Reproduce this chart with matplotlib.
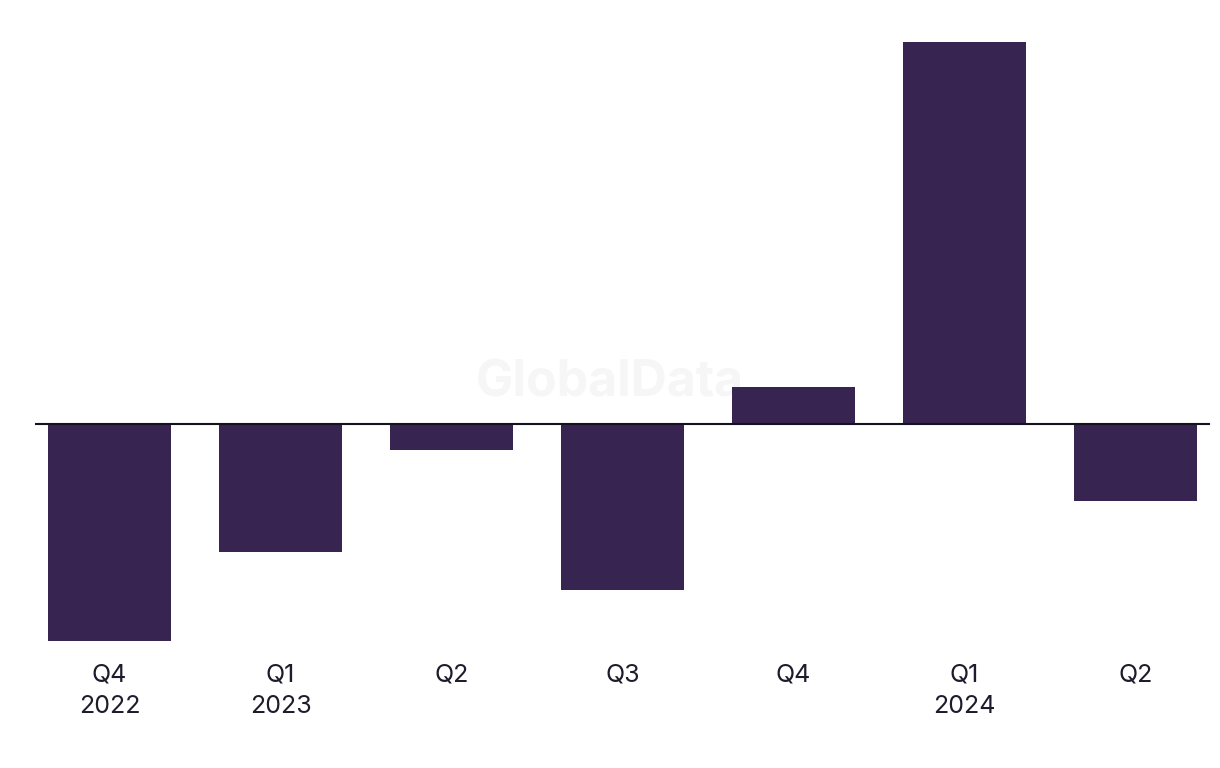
import matplotlib.pyplot as plt

plt.rcParams['font.family'] = ['Inter', 'DejaVu Sans']

# 数据
quarters = ['Q4\n2022', 'Q1\n2023', 'Q2', 'Q3', 'Q4', 'Q1\n2024', 'Q2']
values = [-217, -128, -26, -166, 37, 382, -77]

bar_color = '#372450'
text_color = '#1e1c2c'

fig = plt.figure(figsize=(12.2, 7.68), dpi=100)
ax = fig.add_axes([35 / 1220, 118 / 768, 1175 / 1220, 620 / 768])

x = range(len(values))
ax.bar(x, values, width=0.72, color=bar_color, zorder=2)
ax.axhline(0, color='#14121f', lw=1.5, zorder=3)

# 水印
ax.text(0.489, 0.43, 'GlobalData', transform=ax.transAxes, ha='center', va='center',
        fontsize=36, weight='bold', color='#f6f6f6', zorder=1)

ax.set_xlim(-0.436, 6.436)
ax.set_ylim(-226, 394)
ax.set_xticks(list(x))
ax.set_xticklabels(quarters, fontsize=18, color=text_color, linespacing=1.45)
ax.tick_params(axis='x', length=0, pad=10)
ax.set_yticks([])
for s in ax.spines.values():
    s.set_visible(False)

plt.savefig('out.png', dpi=100)
